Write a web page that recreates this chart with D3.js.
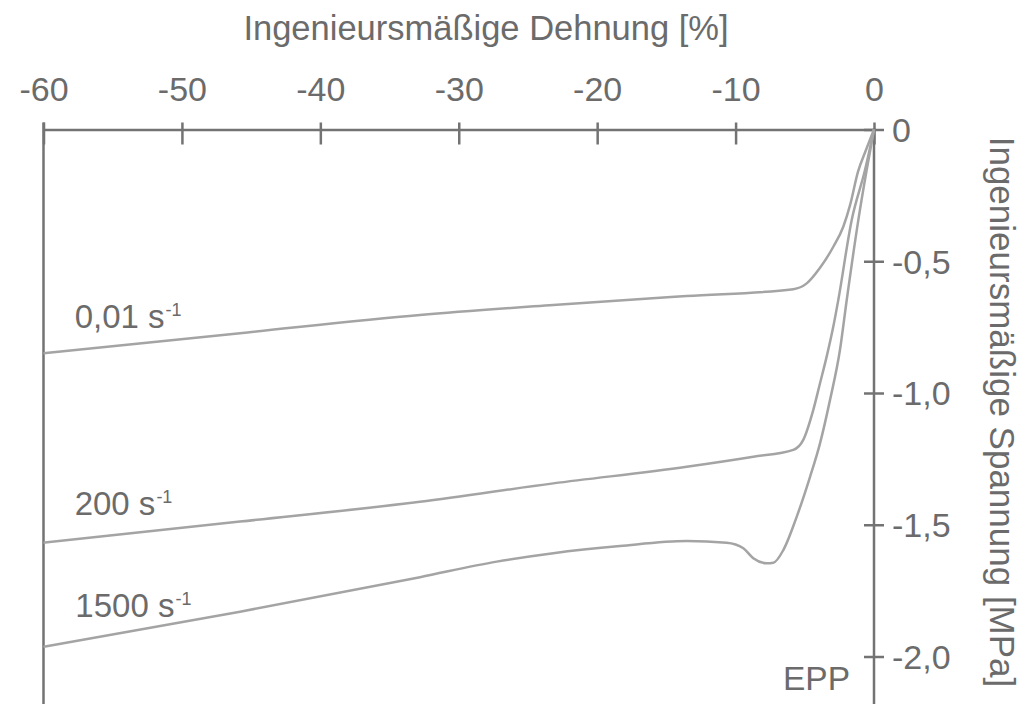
<!DOCTYPE html>
<html>
<head>
<meta charset="utf-8">
<script src="https://cdn.jsdelivr.net/npm/d3@7"></script>
<style>
body { margin: 0; background: #fff; }
text { font-family: "Liberation Sans", Arial, sans-serif; fill: #6b6b6b; }
</style>
</head>
<body>
<script>
// axis ticks
var xTicks = [-60, -50, -40, -30, -20, -10, 0];
var yTicks = [0, -0.5, -1.0, -1.5, -2.0];
var yTickLabels = ["0", "-0,5", "-1,0", "-1,5", "-2,0"];

// 0,01 s-1
var strainA = [-60, -45.8, -32.8, -23.17, -13.53, -5.83, -4.86, -3.9, -2.94, -2.22, -1.73, -1.16, -0.58, 0];
var stressA = [-0.849, -0.773, -0.704, -0.666, -0.632, -0.606, -0.584, -0.525, -0.445, -0.369, -0.287, -0.161, -0.078, 0];

// 200 s-1
var strainB = [-60, -45.8, -32.8, -23.17, -13.53, -8.72, -5.83, -5.11, -4.39, -3.9, -3.42, -2.94, -2.58, -1.61, -0.65, 0];
var stressB = [-1.568, -1.488, -1.413, -1.343, -1.28, -1.242, -1.216, -1.178, -1.065, -0.963, -0.862, -0.748, -0.647, -0.343, -0.154, 0];

// 1500 s-1
var strainC = [-60, -45.8, -32.8, -27.26, -23.17, -18.35, -13.53, -10.64, -9.44, -8.72, -7.75, -7.27, -6.55, -5.58, -4.62, -3.9, -3.18, -2.46, -1.97, -1.13, -0.53, 0];
var stressC = [-1.963, -1.83, -1.699, -1.64, -1.608, -1.581, -1.562, -1.568, -1.589, -1.627, -1.646, -1.644, -1.596, -1.469, -1.318, -1.191, -1.027, -0.837, -0.647, -0.343, -0.154, 0];

var seriesLabels = ["0,01 s", "200 s", "1500 s"];

var width = 1024,
    height = 704;

var svg = d3.select("body")
    .append("svg")
    .attr("width", width)
    .attr("height", height);

var x = d3.scaleLinear().domain([-60, 0]).range([43.5, 874]);
var y = d3.scaleLinear().domain([-2, 0]).range([656.5, 129.5]);

var axisColor = "#737373",
    curveColor = "#a4a4a4";

// top x axis
var xAxis = svg.append("g")
    .attr("transform", "translate(0," + y(0) + ")")
    .call(d3.axisBottom(x).tickValues(xTicks).tickSize(15).tickSizeOuter(0)
        .tickFormat(function (d) { return String(d); }));

xAxis.select(".domain").attr("stroke", axisColor).attr("stroke-width", 2.5);
xAxis.selectAll(".tick line").attr("y1", -7).attr("y2", 15)
    .attr("stroke", axisColor).attr("stroke-width", 2.5);
xAxis.selectAll(".tick text")
    .attr("y", -29).attr("dy", 0)
    .style("font-size", "34px")
    .attr("fill", "#6b6b6b");

// right y axis
var yAxis = svg.append("g")
    .attr("transform", "translate(" + x(0) + ",0)")
    .call(d3.axisRight(y).tickValues(yTicks).tickSize(10).tickSizeOuter(0)
        .tickFormat(function (d, i) { return yTickLabels[i]; }));

yAxis.select(".domain").remove();
yAxis.selectAll(".tick line").attr("x1", -10).attr("x2", 10)
    .attr("stroke", axisColor).attr("stroke-width", 2.5);
yAxis.selectAll(".tick text")
    .attr("x", 18)
    .attr("dy", "0.35em")
    .style("font-size", "34px")
    .attr("fill", "#6b6b6b");

// vertical lines running to the bottom edge
svg.append("line")
    .attr("x1", x(0)).attr("x2", x(0))
    .attr("y1", y(0) - 1).attr("y2", height)
    .attr("stroke", axisColor).attr("stroke-width", 2.5);

svg.append("line")
    .attr("x1", x(-60)).attr("x2", x(-60))
    .attr("y1", y(0) - 7).attr("y2", height)
    .attr("stroke", axisColor).attr("stroke-width", 2.5);

// curves
var line = d3.line()
    .x(function (d) { return x(d[0]); })
    .y(function (d) { return y(d[1]); })
    .curve(d3.curveMonotoneX);

[[strainA, stressA], [strainB, stressB], [strainC, stressC]].forEach(function (s) {
    var pts = s[0].map(function (v, i) { return [v, s[1][i]]; });
    svg.append("path")
        .datum(pts)
        .attr("fill", "none")
        .attr("stroke", curveColor)
        .attr("stroke-width", 2.5)
        .attr("stroke-linejoin", "round")
        .attr("d", line);
});

// curve labels
var labelPos = [[-57.75, -0.754], [-57.75, -1.463], [-57.7, -1.849]];
seriesLabels.forEach(function (t, i) {
    var lab = svg.append("text")
        .attr("x", x(labelPos[i][0]))
        .attr("y", y(labelPos[i][1]))
        .style("font-size", "33px")
        .text(t);
    lab.append("tspan")
        .attr("dx", 1)
        .attr("dy", -12)
        .style("font-size", "18px")
        .text("-1");
});

// titles
svg.append("text")
    .attr("x", 486)
    .attr("y", 40)
    .attr("text-anchor", "middle")
    .style("font-size", "34.5px")
    .text("Ingenieursmäßige Dehnung [%]");

svg.append("text")
    .attr("transform", "translate(990,412) rotate(90)")
    .attr("text-anchor", "middle")
    .style("font-size", "35px")
    .text("Ingenieursmäßige Spannung [MPa]");

svg.append("text")
    .attr("x", 783)
    .attr("y", 690)
    .style("font-size", "33.5px")
    .text("EPP");
</script>
</body>
</html>
